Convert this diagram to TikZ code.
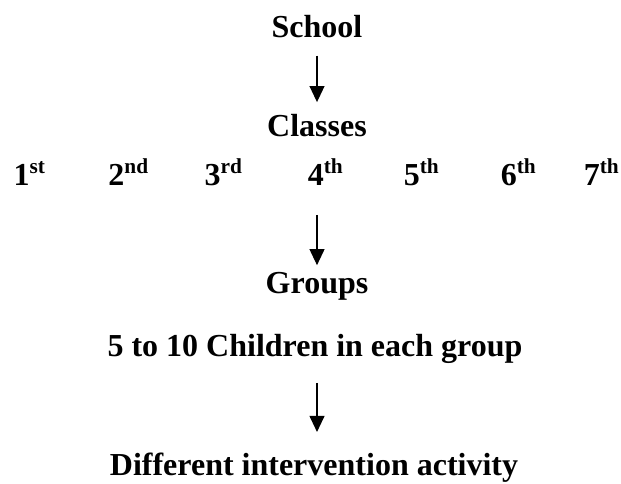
\documentclass[tikz,border=0pt]{standalone}
\usepackage{fontspec}
\setmainfont{Liberation Serif}
\usetikzlibrary{arrows.meta}
\begin{document}
\begin{tikzpicture}[
    x=0.375pt, y=-0.375pt,
    lbl/.style={inner sep=0pt, anchor=base, font=\fontsize{12}{14}\selectfont\bfseries},
    arr/.style={-{Triangle[width=5.6pt, length=6pt]}, line width=0.45pt},
]
    \useasboundingbox (0,0) rectangle (621,483);

    % Top levels
    \node[lbl] (school) at (317, 37) {School};
    \node[lbl] (classes) at (317, 136) {Classes};

    % Class numbers
    \node[lbl] (c1) at (30, 185) {1\textsuperscript{st}};
    \node[lbl] (c2) at (129, 185) {2\textsuperscript{nd}};
    \node[lbl] (c3) at (224, 185) {3\textsuperscript{rd}};
    \node[lbl] (c4) at (326, 185) {4\textsuperscript{th}};
    \node[lbl] (c5) at (422, 185) {5\textsuperscript{th}};
    \node[lbl] (c6) at (519, 185) {6\textsuperscript{th}};
    \node[lbl] (c7) at (602, 185) {7\textsuperscript{th}};

    % Groups
    \node[lbl] (groups) at (317, 293) {Groups};
    \node[lbl] (children) at (315, 356) {5 to 10 Children in each group};

    % Activity
    \node[lbl] (activity) at (314, 475) {Different intervention activity};

    % Arrows
    \draw[arr, shorten <=6.7pt, shorten >=4.2pt] (school.south) -- (school.south |- classes.north);
    \draw[arr, shorten <=11pt, shorten >=2.3pt] (classes.south |- c4.south) -- (groups.north);
    \draw[arr, shorten <=7.2pt, shorten >=7.5pt] (groups.south |- children.south) -- (groups.south |- activity.north);
\end{tikzpicture}
\end{document}
